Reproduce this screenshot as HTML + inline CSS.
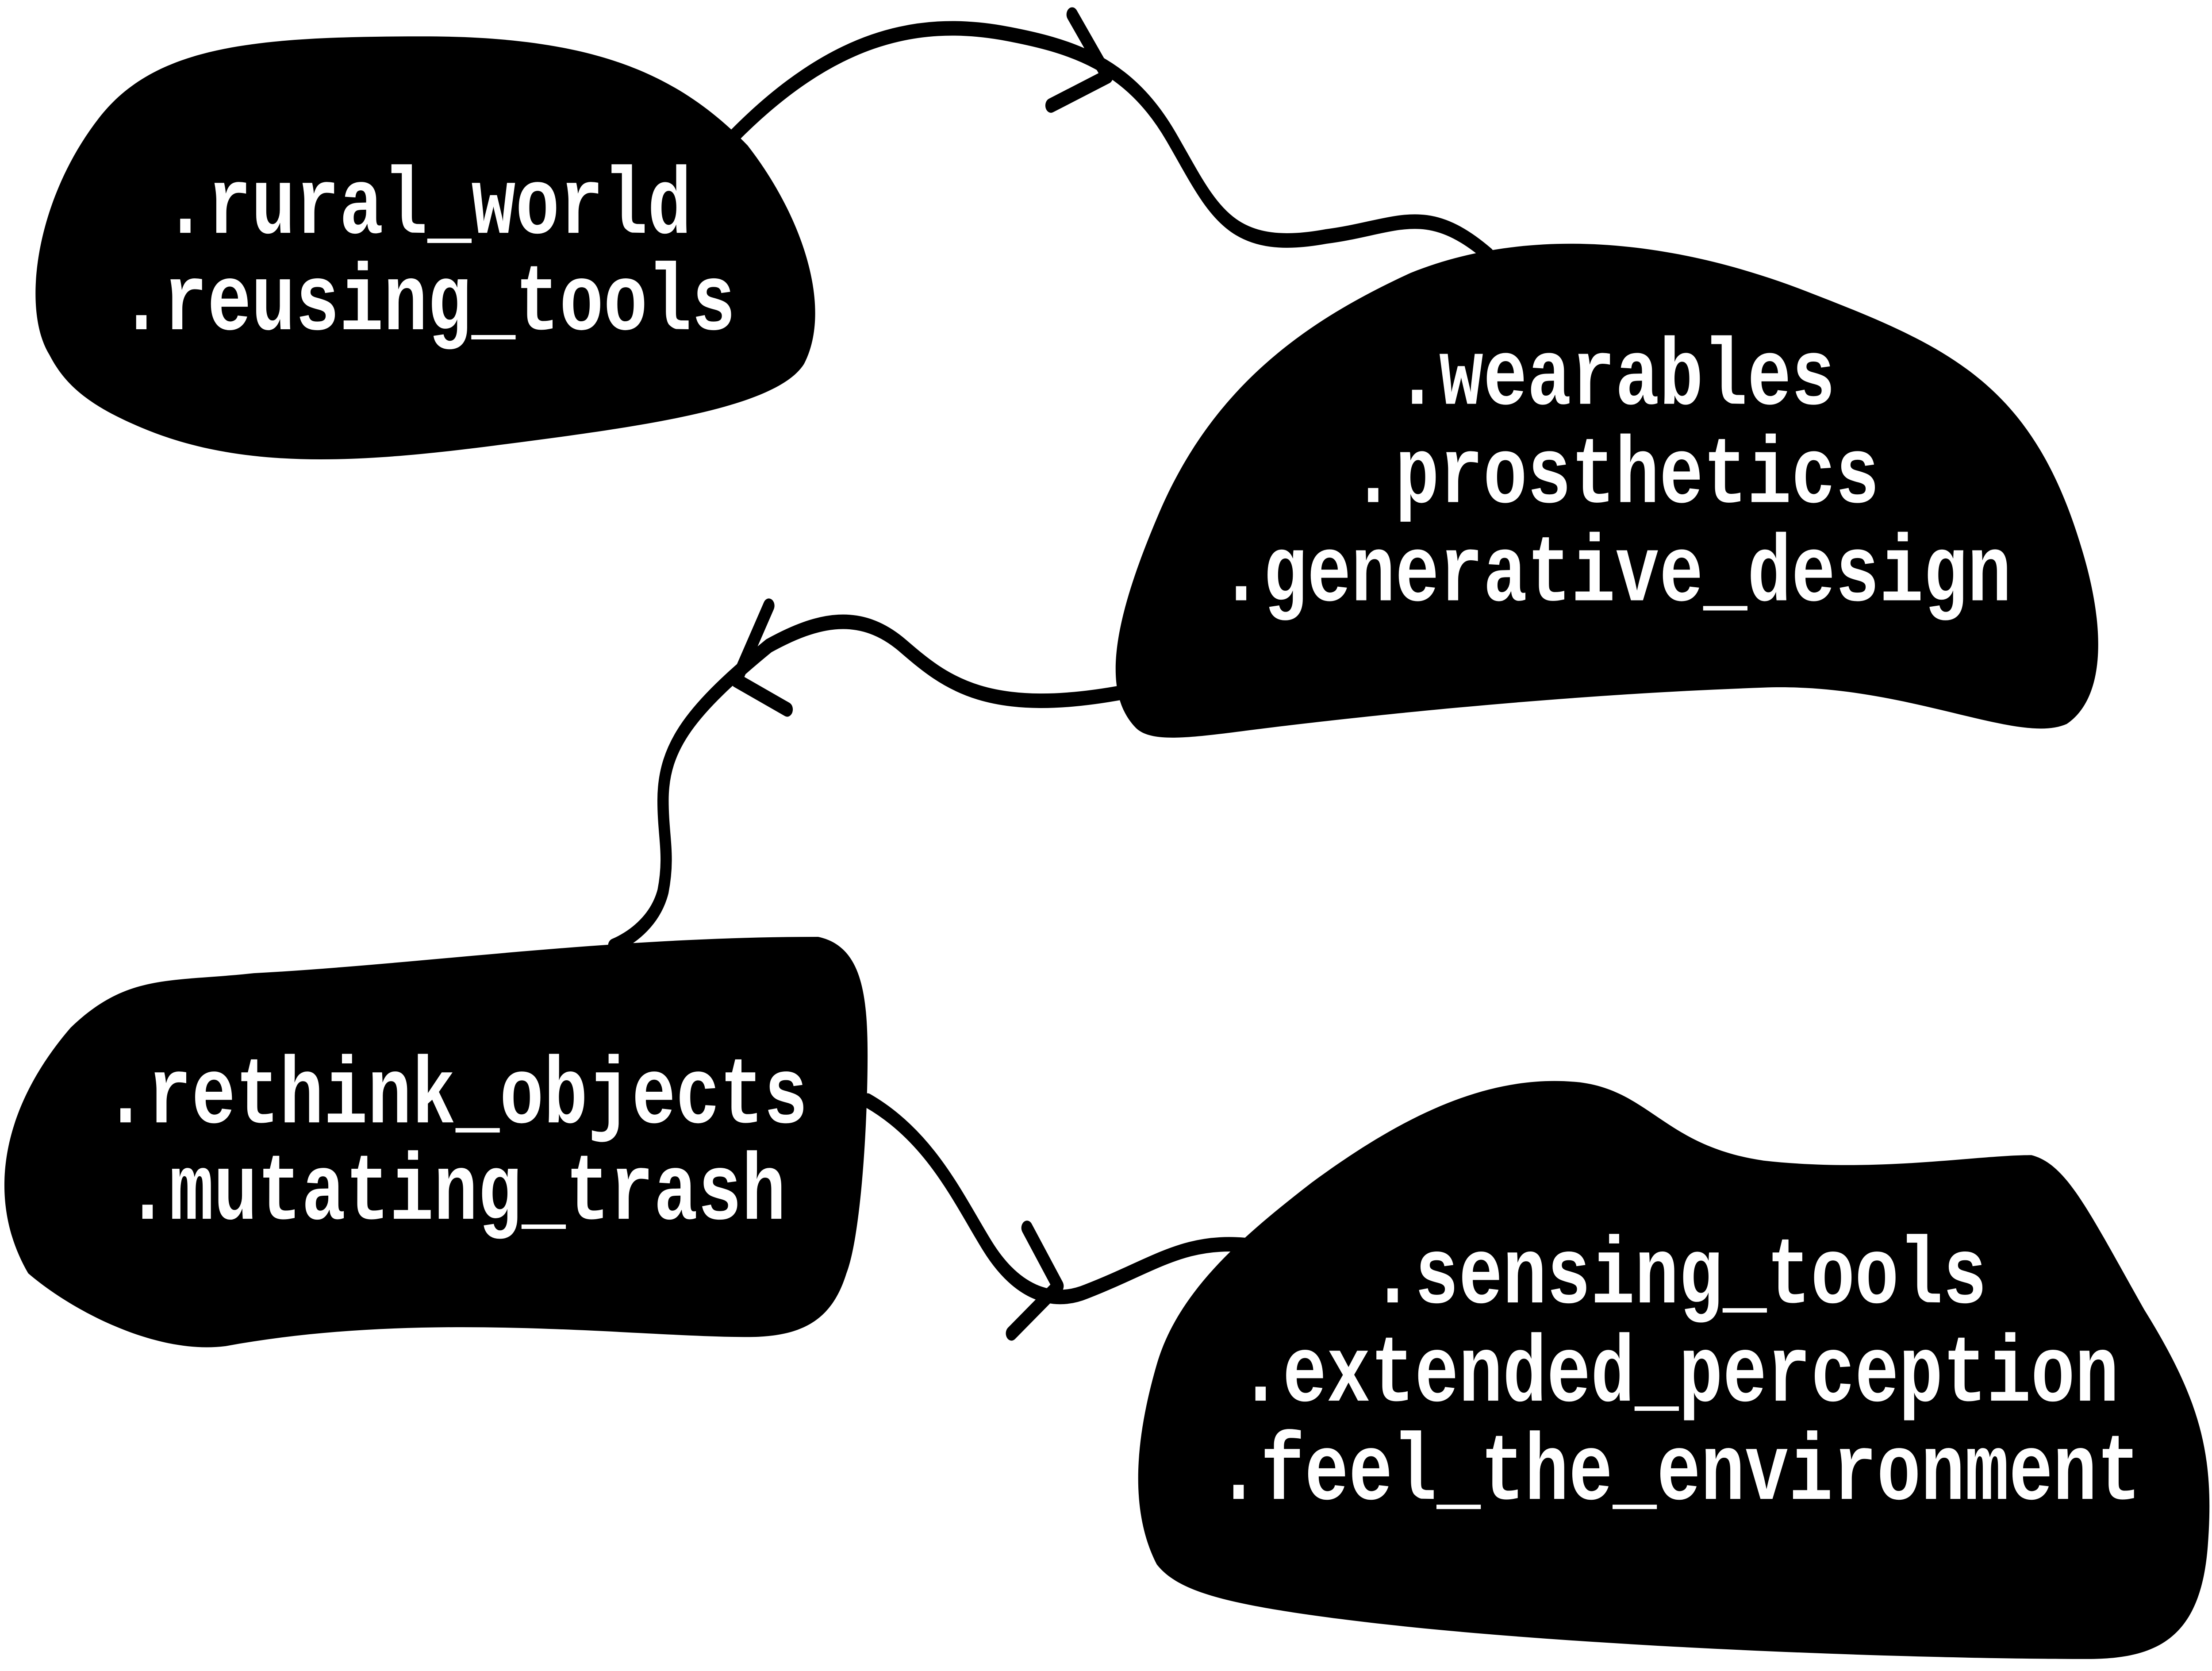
<!DOCTYPE html>
<html><head><meta charset="utf-8"><style>
html,body{margin:0;padding:0;background:#fff;width:100%;height:100%;overflow:hidden;}
svg{display:block;width:100vw;height:100vh;}
text{font-family:"Liberation Mono",monospace;font-weight:bold;font-size:52px;fill:#fff;text-anchor:middle;}
</style></head><body>
<svg viewBox="0 0 1568 918.6" preserveAspectRatio="none" xmlns="http://www.w3.org/2000/svg">
<g fill="#000">
<path d="M35,195 C15,170 25,110 70,65 C110,25 180,20 300,20 C420,20 480,40 530,80 C570,120 590,170 570,200 C550,225 450,235 350,245 C250,255 170,258 100,235 C60,222 45,210 35,195 Z"/>
<path d="M805,400 C780,380 790,340 820,285 C860,210 930,175 1000,150 C1080,125 1180,130 1280,160 C1380,190 1440,210 1475,300 C1495,350 1490,385 1465,398 C1430,410 1350,375 1250,378 C1100,382 950,395 880,402 C840,406 815,408 805,400 Z"/>
<path d="M20,700 C-10,660 0,610 50,565 C90,535 120,540 180,535 C300,530 430,515 580,515 C610,520 615,545 615,580 C615,620 610,680 600,700 C590,725 570,735 530,735 C450,735 300,720 160,740 C110,745 50,720 20,700 Z"/>
<path d="M820,860 C800,830 805,790 820,750 C835,710 880,680 930,650 C1000,610 1060,590 1120,595 C1170,600 1180,630 1250,638 C1330,645 1400,635 1440,635 C1465,640 1480,665 1520,720 C1560,770 1570,800 1565,850 C1560,900 1530,912 1480,912 C1350,912 1100,905 950,890 C870,882 835,875 820,860 Z"/>
</g>
<g fill="none" stroke="#000" stroke-width="8" stroke-linecap="round" stroke-linejoin="round">
<path d="M520,75 C590,20 650,10 710,18 C760,25 800,35 830,75 C860,115 870,140 940,130 C990,125 1010,110 1055,140"/>
<path d="M760,8 L785,42 L745,58"/>
<path d="M800,380 C700,395 670,375 640,355 C610,335 580,340 545,355 C490,390 470,410 470,440 C470,460 475,470 470,490 C465,505 450,515 435,520"/>
<path d="M545,333 L522,374 L558,390"/>
<path d="M615,605 C660,625 680,660 700,685 C720,710 745,718 770,710 C820,695 840,680 890,685"/>
<path d="M728,675 L750,707 L717,733"/>
</g>
<text x="303" y="128">.rural_world</text>
<text x="303" y="181">.reusing_tools</text>
<text x="1145" y="222">.wearables</text>
<text x="1145" y="276">.prosthetics</text>
<text x="1145" y="330">.generative_design</text>
<text x="323" y="617">.rethink_objects</text>
<text x="323" y="670">.mutating_trash</text>
<text x="1190" y="716">.sensing_tools</text>
<text x="1190" y="770">.extended_perception</text>
<text x="1190" y="824">.feel_the_environment</text>
</svg>
</body></html>
